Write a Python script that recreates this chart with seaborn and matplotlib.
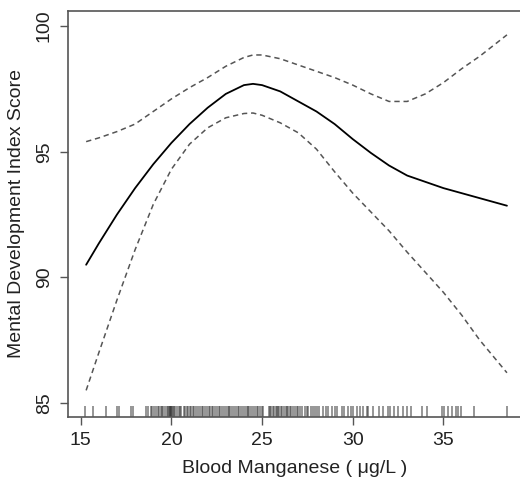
import numpy as np
import pandas as pd
import matplotlib
matplotlib.use("Agg")
import matplotlib.pyplot as plt
import seaborn as sns

# smooth fit
mn = [15.3, 16, 17, 18, 19, 20, 21, 22, 23, 24, 24.5, 25, 26, 27, 28, 29, 30,
      31, 32, 33, 34, 35, 36, 37, 38.5]
fit = [90.5, 91.35, 92.5, 93.55, 94.5, 95.35, 96.1, 96.75, 97.3, 97.65, 97.7,
       97.65, 97.4, 97.0, 96.6, 96.1, 95.5, 94.95, 94.45, 94.05, 93.8, 93.55,
       93.35, 93.15, 92.85]
upper = [95.4, 95.55, 95.8, 96.1, 96.6, 97.1, 97.55, 97.95, 98.4, 98.75, 98.85,
         98.85, 98.7, 98.45, 98.2, 97.95, 97.65, 97.3, 97.0, 97.0, 97.3, 97.75,
         98.3, 98.8, 99.65]
lower = [85.5, 87.0, 89.1, 91.1, 92.9, 94.3, 95.3, 95.95, 96.35, 96.52, 96.54,
         96.45, 96.15, 95.75, 95.1, 94.2, 93.35, 92.6, 91.85, 91.0, 90.2, 89.4,
         88.5, 87.5, 86.2]

# observed blood manganese values (rug)
rug = [15.24, 15.69, 16.39, 17.02, 17.13, 17.77, 17.90, 18.60, 18.73, 18.88,
       18.95, 19.05, 19.15, 19.25, 19.3, 19.4, 19.5, 19.55, 19.65, 19.75, 19.8,
       19.85, 19.9, 19.95, 20.0, 20.0, 20.05, 20.1, 20.15, 20.2, 20.3, 20.4,
       20.45, 20.55, 20.7, 20.75, 20.85, 20.9, 21.0, 21.1, 21.2, 21.25, 21.35,
       21.45, 21.6, 21.7, 21.75, 21.85, 21.95, 22.05, 22.15, 22.25, 22.3, 22.4,
       22.5, 22.6, 22.7, 22.8, 22.9, 23.0, 23.1, 23.2, 23.25, 23.35, 23.45,
       23.55, 23.65, 23.75, 23.85, 23.95, 24.05, 24.15, 24.2, 24.3, 24.4, 24.5,
       24.6, 24.7, 24.8, 24.9, 25.0, 25.07, 25.4, 25.45, 25.5, 25.6, 25.65,
       25.75, 25.8, 25.9, 25.95, 26.05, 26.1, 26.2, 26.3, 26.35, 26.45, 26.55,
       26.6, 26.7, 26.8, 26.9, 27.0, 27.1, 27.2, 27.35, 27.45, 27.55, 27.7,
       27.8, 27.9, 28.05, 28.15, 28.37, 28.52, 28.65, 28.84, 29.02, 29.14,
       29.39, 29.52, 29.72, 29.88, 30.03, 30.21, 30.40, 30.58, 30.77, 30.82,
       31.13, 31.44, 31.68, 31.94, 32.05, 32.29, 32.51, 32.75, 32.97, 33.19,
       33.80, 34.09, 34.93, 35.04, 35.26, 35.49, 35.67, 35.82, 35.96, 36.70,
       38.48]

xticks = [15, 20, 25, 30, 35]
yticks = [85, 90, 95, 100]

sns.set_style("white")
plt.rcParams['font.family'] = ['Liberation Sans', 'DejaVu Sans']

df = pd.DataFrame({'mn': mn * 3,
                   'score': fit + upper + lower,
                   'curve': ['fit'] * len(mn) + ['upper'] * len(mn) + ['lower'] * len(mn)})

fig = plt.figure(figsize=(5.2, 4.83), dpi=100)
ax = fig.add_axes([68 / 520, 1 - 417 / 483, (522 - 68) / 520, (417 - 11) / 483])

sns.lineplot(data=df[df.curve == 'fit'], x='mn', y='score', color='black',
             linewidth=1.3, ax=ax)
for c in ['upper', 'lower']:
    sns.lineplot(data=df[df.curve == c], x='mn', y='score', color='#555555',
                 linewidth=1.1, linestyle=(0, (3.5, 2.5)), ax=ax)

sns.rugplot(x=rug, height=0.028, color='#333333', alpha=0.6, linewidth=1.2, ax=ax)

ax.set_xlim(14.30, 39.33)
ax.set_ylim(84.44, 100.6)
ax.set_xticks(xticks)
ax.set_yticks(yticks)
ax.set_yticklabels([str(v) for v in yticks], rotation=90, va='center')
ax.tick_params(axis='both', direction='out', length=6, width=1, color='#555555',
               labelsize=14, labelcolor='#222222', pad=5, bottom=True, left=True)
for s in ['left', 'top', 'bottom']:
    ax.spines[s].set_color('#555555')
    ax.spines[s].set_linewidth(1.2)
ax.spines['right'].set_visible(False)

ax.set_xlabel('Blood Manganese ( μg/L )', fontsize=14, color='#222222', labelpad=8)
ax.set_ylabel('Mental Development Index Score', fontsize=14, color='#222222', labelpad=8)

fig.savefig('out.png', dpi=100)
